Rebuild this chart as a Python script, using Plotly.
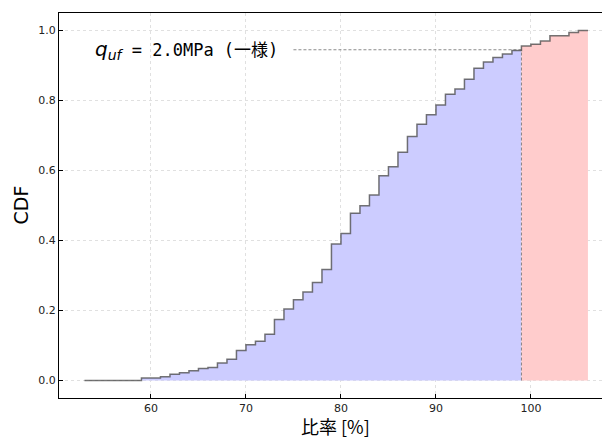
import plotly.graph_objects as go

# ---- data ----
ratio = list(range(53, 107))  # 比率 [%]
cdf = [0, 0, 0, 0, 0, 0, 0.007, 0.007, 0.011, 0.018,
       0.022, 0.028, 0.034, 0.037, 0.050, 0.061, 0.086, 0.102, 0.112, 0.132,
       0.174, 0.204, 0.231, 0.253, 0.280, 0.317, 0.390, 0.420, 0.478, 0.499,
       0.530, 0.585, 0.611, 0.652, 0.697, 0.732, 0.759, 0.787, 0.818, 0.833,
       0.861, 0.892, 0.910, 0.923, 0.933, 0.943, 0.956, 0.961, 0.970, 0.985,
       0.985, 0.994, 1.000, 1.000]
threshold = 99
threshold_level = 0.945
hline_start = 75
label_x = 53.9
x_ticks = [60, 70, 80, 90, 100]
y_ticks = [0.0, 0.2, 0.4, 0.6, 0.8, 1.0]

label_text = ("<span style='font-family:DejaVu Sans'><i>q</i><sub><i>uf</i></sub></span>"
              "<span style='font-family:DejaVu Sans Mono, Noto Sans CJK JP;font-size:17px'>"
              " = 2.0MPa (一様)</span>")

idx = ratio.index(threshold)
xb, yb = ratio[:idx + 1], cdf[:idx] + [cdf[idx - 1]]
xr, yr = ratio[idx:], cdf[idx:]

fig = go.Figure()
fig.add_trace(go.Scatter(x=xb, y=yb, mode="lines", line=dict(shape="hv", width=0),
                         fill="tozeroy", fillcolor="rgb(204,204,255)", hoverinfo="skip"))
fig.add_trace(go.Scatter(x=xr, y=yr, mode="lines", line=dict(shape="hv", width=0),
                         fill="tozeroy", fillcolor="rgb(255,204,204)", hoverinfo="skip"))
fig.add_trace(go.Scatter(x=[threshold, threshold], y=[0, threshold_level], mode="lines",
                         line=dict(color="rgba(110,110,110,0.8)", width=1, dash="3px,2px")))
fig.add_trace(go.Scatter(x=[hline_start, threshold], y=[threshold_level, threshold_level], mode="lines",
                         line=dict(color="rgba(110,110,110,0.8)", width=1, dash="3px,2px")))
fig.add_trace(go.Scatter(x=ratio, y=cdf, mode="lines",
                         line=dict(shape="hv", color="rgba(70,70,70,0.75)", width=1.5)))

fig.add_annotation(x=label_x, y=threshold_level, xref="x", yref="y", text=label_text,
                   showarrow=False, xanchor="left", yanchor="middle",
                   font=dict(family="DejaVu Sans", size=20, color="black"))
fig.add_annotation(x=0.51, y=-0.072, xref="paper", yref="paper", text="比率 [%]",
                   showarrow=False, xanchor="center", yanchor="middle",
                   font=dict(family="Noto Sans CJK JP", size=18, color="black"))
fig.add_annotation(x=(20 - 59) / 543, y=0.5, xref="paper", yref="paper", text="CDF",
                   textangle=-90, showarrow=False, xanchor="center", yanchor="middle",
                   font=dict(family="DejaVu Sans", size=19, color="black"))

axis_common = dict(showline=True, linecolor="black", linewidth=1.2, ticks="inside",
                   ticklen=4, tickcolor="black", showgrid=True, gridcolor="#e0e0e0",
                   griddash="dot", gridwidth=1.2, zeroline=False, automargin=False,
                   tickfont=dict(family="DejaVu Sans", size=11, color="#222222"))

fig.update_layout(
    width=602, height=439,
    margin=dict(l=59, r=0, t=13, b=41),
    paper_bgcolor="white", plot_bgcolor="white",
    showlegend=False,
    xaxis=dict(range=[50.32, 107.48], tickvals=x_ticks, mirror=True, **axis_common),
    yaxis=dict(range=[-0.05, 1.05], tickvals=y_ticks, tickformat=".1f", **axis_common),
)

fig.write_html("out.html", config={"displayModeBar": False},
               post_script="document.body.style.margin='0';")
